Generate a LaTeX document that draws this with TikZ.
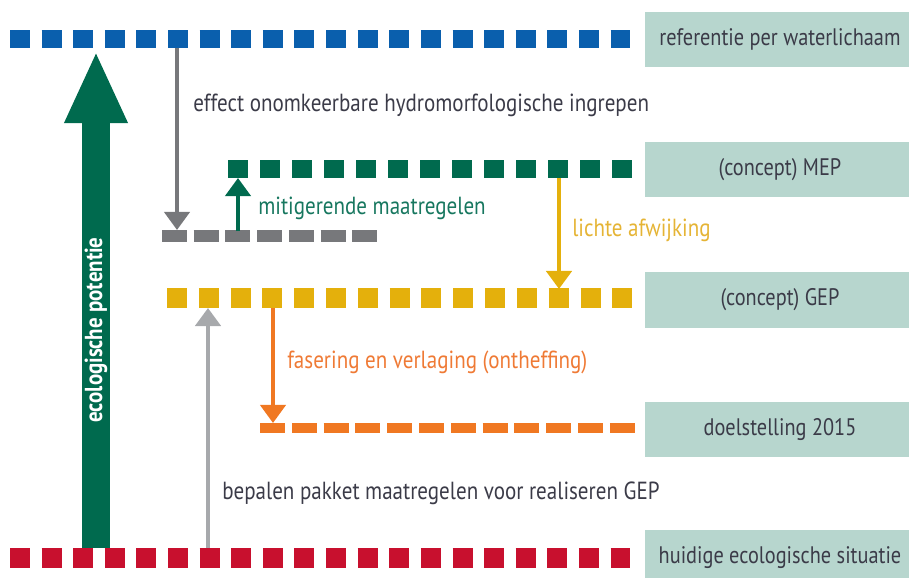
\documentclass[tikz,border=0pt]{standalone}
\usepackage{fontspec}
\setmainfont[FakeStretch=0.85]{PT Sans}
\usetikzlibrary{arrows.meta}
\definecolor{refblue}{HTML}{0A5FAD}
\definecolor{mepgreen}{HTML}{006A4E}
\definecolor{midgrey}{HTML}{77787B}
\definecolor{gepyellow}{HTML}{E4B00C}
\definecolor{doelorange}{HTML}{F07822}
\definecolor{nowred}{HTML}{C8102E}
\definecolor{lightgrey}{HTML}{A7A9AC}
\definecolor{boxfill}{HTML}{B7D6CE}
\definecolor{txtgrey}{HTML}{3B3B48}
\definecolor{mitgreen}{HTML}{17775F}
\definecolor{afwyellow}{HTML}{E5B435}
\definecolor{fasorange}{HTML}{EF7A35}

\begin{document}
\begin{tikzpicture}[x=0.025cm,y=-0.025cm,
    every node/.style={font=\fontsize{17}{19}\selectfont},
    dashline/.style n args={3}{line width=#1, dash pattern=on #2 off #3},
    box/.style={fill=boxfill, text=txtgrey, minimum width=6.75cm, minimum height=1.375cm, inner sep=0pt},
    lbl/.style={anchor=west, inner sep=0pt},
    arr/.style={line width=0.1cm, -{Triangle[width=0.625cm,length=0.45cm]}}]

        \clip (0,0) rectangle (909,578);

        \coordinate (ref-l)  at (10,39);
        \coordinate (ref-r)  at (630,39);
        \coordinate (mep-l)  at (228,169);
        \coordinate (mep-r)  at (632,169);
        \coordinate (hyd-l)  at (162,236);
        \coordinate (hyd-r)  at (377,236);
        \coordinate (gep-l)  at (167,298);
        \coordinate (gep-r)  at (632,298);
        \coordinate (doel-l) at (260,428);
        \coordinate (doel-r) at (635,428);
        \coordinate (now-l)  at (10,558);
        \coordinate (now-r)  at (630,558);

        \draw[refblue, dashline={0.45cm}{0.5cm}{0.29cm}] (ref-l) -- (ref-r);
        \draw[mepgreen, dashline={0.45cm}{0.5cm}{0.3cm}] (mep-l) -- (mep-r);
        \draw[midgrey, dashline={0.275cm}{0.625cm}{0.1675cm}] (hyd-l) -- (hyd-r);
        \draw[gepyellow, dashline={0.475cm}{0.5cm}{0.295cm}] (gep-l) -- (gep-r);
        \draw[doelorange, dashline={0.25cm}{0.625cm}{0.17cm}] (doel-l) -- (doel-r);
        \draw[nowred, dashline={0.5cm}{0.5cm}{0.29cm}] (now-l) -- (now-r);

        \begin{scope}[every node/.style={box, font=\fontsize{17}{19}\selectfont}]
          \node (b1) at (780,39.5)  {referentie per waterlichaam};
          \node (b2) at (780,169.5) {(concept) MEP};
          \node (b3) at (780,300)   {(concept) GEP};
          \node (b4) at (780,429.5) {doelstelling 2015};
          \node (b5) at (780,558)   {huidige ecologische situatie};
        \end{scope}

        \coordinate (a1) at (177,48);   \coordinate (a2) at (177,230);
        \coordinate (c1) at (238,231);  \coordinate (c2) at (238,178);
        \coordinate (d1) at (559,178);  \coordinate (d2) at (559,289);
        \coordinate (e1) at (208,548);  \coordinate (e2) at (208,308);
        \coordinate (f1) at (273,308);  \coordinate (f2) at (273,423);
        \coordinate (g1) at (96,548);   \coordinate (g2) at (96,51);

        \draw[mepgreen, line width=0.7cm, -{Triangle[width=1.45cm,length=1.8cm]}] (g1) -- (g2);
        \draw[arr, midgrey] (a1) -- (a2);
        \draw[arr, mepgreen] (c1) -- (c2);
        \draw[arr, gepyellow, line width=0.12cm] (d1) -- (d2);
        \draw[arr, lightgrey, line width=0.12cm] (e1) -- (e2);
        \draw[arr, doelorange] (f1) -- (f2);

        \node[white, font=\bfseries\fontsize{17.5}{19}\selectfont, rotate=90] (pot) at (96,330) {ecologische potentie};

        \begin{scope}[every node/.style={lbl, font=\fontsize{17.6}{19}\selectfont}]
          \node[txtgrey]    (t1) at (193,105) {effect onomkeerbare hydromorfologische ingrepen};
          \node[mitgreen]   (t2) at (258,208) {mitigerende maatregelen};
          \node[afwyellow]  (t3) at (572,230) {lichte afwijking};
          \node[fasorange]  (t4) at (287,362) {fasering en verlaging (ontheffing)};
          \node[txtgrey]    (t5) at (222,493) {bepalen pakket maatregelen voor realiseren GEP};
        \end{scope}

      \end{tikzpicture}
\end{document}
